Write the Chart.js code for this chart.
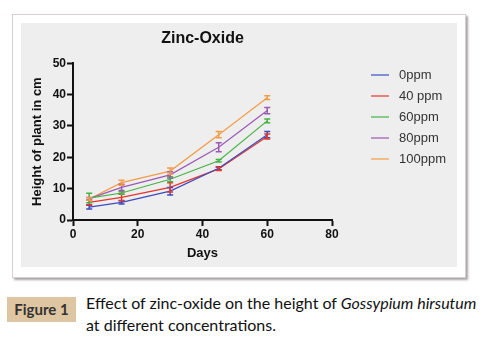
<!DOCTYPE html>
<html>
<head>
<meta charset="utf-8">
<script src="https://cdn.jsdelivr.net/npm/chart.js@4.4.1/dist/chart.umd.min.js"></script>
<style>
  body { margin: 0; background: #fff; width: 485px; height: 340px; position: relative; overflow: hidden; }
  #frame { position: absolute; left: 12px; top: 14px; width: 452px; height: 262px; border: 1px solid #d8cfd2; box-shadow: 2px 2px 2px #a8a8a8; background: #fff; }
  #panel { position: absolute; left: 21px; top: 23px; width: 436px; height: 244px; background: #eeeeee; }
  #chartBox { position: absolute; left: 0; top: 0; width: 436px; height: 244px; }
  #legend { position: absolute; left: 350px; top: 41px; font-family: "Liberation Sans", Arial, sans-serif; font-size: 13px; color: #333; }
  .item { height: 21px; display: flex; align-items: center; }
  .swatch { width: 18px; height: 2px; margin-right: 10px; opacity: 0.6; }
  #figLabel { position: absolute; left: 7px; top: 297px; width: 69px; height: 25px; background: #dfc6a2; font-family: Lato, sans-serif; font-weight: bold; font-size: 15px; color: #333; text-align: center; line-height: 25px; }
  #caption { position: absolute; left: 86px; top: 292px; font-family: Lato, sans-serif; font-size: 16px; color: #111; line-height: 22px; }
</style>
</head>
<body>
<div id="frame"></div>
<div id="panel">
  <div id="chartBox"><canvas id="chart" width="436" height="244"></canvas></div>
  <div id="legend"></div>
</div>
<div id="figLabel">Figure 1</div>
<div id="caption">Effect of zinc-oxide on the height of <i>Gossypium hirsutum</i><br>at different concentrations.</div>
<script>
const days = [5, 15, 30, 45, 60];
const seriesNames = ["0ppm", "40 ppm", "60ppm", "80ppm", "100ppm"];
const ppm0 = [4.1, 5.6, 9.2, 16.5, 27.2];
const ppm0Err = [0.6, 0.5, 1.2, 0.5, 1.0];
const ppm40 = [5.6, 7.2, 10.4, 16.3, 26.6];
const ppm40Err = [0.7, 1.0, 1.5, 0.5, 0.8];
const ppm60 = [7.0, 8.6, 13.0, 18.9, 31.6];
const ppm60Err = [1.5, 0.4, 0.8, 0.4, 0.6];
const ppm80 = [6.8, 10.4, 14.4, 23.2, 34.9];
const ppm80Err = [0.4, 1.0, 1.0, 1.4, 1.0];
const ppm100 = [6.7, 11.9, 15.6, 27.2, 39.0];
const ppm100Err = [0.4, 0.8, 1.0, 1.0, 0.6];
const xTicks = [0, 20, 40, 60, 80];
const yTicks = [0, 10, 20, 30, 40, 50];

const colors = ["#3b4cc0", "#e8352a", "#45b345", "#9b59b6", "#f39c45"];
const values = [ppm0, ppm40, ppm60, ppm80, ppm100];
const errors = [ppm0Err, ppm40Err, ppm60Err, ppm80Err, ppm100Err];

// error bars drawn from the y scale
const errorBars = {
  id: "errorBars",
  afterDatasetsDraw(chart) {
    const ctx = chart.ctx;
    const yScale = chart.scales.y;
    chart.data.datasets.forEach((ds, i) => {
      const meta = chart.getDatasetMeta(i);
      ctx.save();
      ctx.strokeStyle = ds.borderColor;
      ctx.lineWidth = 1.5;
      meta.data.forEach((pt, j) => {
        const v = ds.data[j].y;
        const e = ds.errors[j];
        const top = yScale.getPixelForValue(v + e);
        const bot = yScale.getPixelForValue(v - e);
        ctx.beginPath();
        ctx.moveTo(pt.x, top);
        ctx.lineTo(pt.x, bot);
        ctx.moveTo(pt.x - 3, top);
        ctx.lineTo(pt.x + 3, top);
        ctx.moveTo(pt.x - 3, bot);
        ctx.lineTo(pt.x + 3, bot);
        ctx.stroke();
      });
      ctx.restore();
    });
  }
};

const tickFont = { family: "Liberation Sans, Arial, sans-serif", size: 12, weight: "bold" };
const axisTitleFont = { family: "Liberation Sans, Arial, sans-serif", size: 13, weight: "bold" };

new Chart(document.getElementById("chart").getContext("2d"), {
  type: "line",
  data: {
    datasets: seriesNames.map((name, i) => ({
      label: name,
      data: days.map((d, j) => ({ x: d, y: values[i][j] })),
      errors: errors[i],
      borderColor: colors[i],
      backgroundColor: colors[i],
      borderWidth: 1.2,
      pointRadius: 0,
      tension: 0,
    })),
  },
  options: {
    responsive: false,
    animation: false,
    layout: { padding: { left: 9, right: 125, bottom: 3, top: 0 } },
    plugins: {
      legend: { display: false },
      tooltip: { enabled: false },
      title: {
        display: true,
        fullSize: false,
        text: "Zinc-Oxide",
        color: "#111",
        font: { family: "Liberation Sans, Arial, sans-serif", size: 16, weight: "bold" },
        padding: { top: 6, bottom: 15 },
      },
    },
    scales: {
      x: {
        type: "linear",
        min: 0,
        max: 80,
        afterBuildTicks: (s) => { s.ticks = xTicks.map((v) => ({ value: v })); },
        afterFit: (s) => { s.height = 44; },
        grid: { display: true, drawOnChartArea: false, tickLength: 6, tickColor: "#111", tickWidth: 2 },
        border: { color: "#111", width: 2 },
        ticks: { color: "#111", font: tickFont, padding: 1, maxRotation: 0 },
        title: { display: true, text: "Days", color: "#111", font: axisTitleFont, padding: { top: 4, bottom: 3 } },
      },
      y: {
        min: 0,
        max: 50,
        afterBuildTicks: (s) => { s.ticks = yTicks.map((v) => ({ value: v })); },
        afterFit: (s) => { s.width = 43; },
        grid: { display: true, drawOnChartArea: false, tickLength: 6, tickColor: "#111", tickWidth: 2 },
        border: { color: "#111", width: 2 },
        ticks: { color: "#111", font: tickFont, padding: 1 },
        title: { display: true, text: "Height of plant in cm", color: "#111", font: axisTitleFont, padding: { top: 0, bottom: 4 } },
      },
    },
  },
  plugins: [errorBars],
});

// legend from the same series
const legend = document.getElementById("legend");
seriesNames.forEach((name, i) => {
  const row = document.createElement("div");
  row.className = "item";
  row.innerHTML = '<span class="swatch" style="background:' + colors[i] + '"></span>' + name;
  legend.appendChild(row);
});
</script>
</body>
</html>
